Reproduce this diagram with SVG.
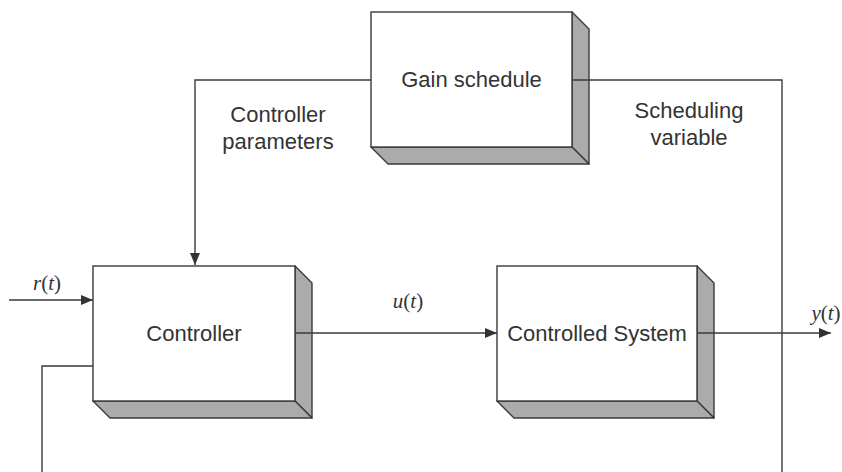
<svg xmlns="http://www.w3.org/2000/svg" width="842" height="472" viewBox="0 0 842 472">
<defs>
<style>
.front{fill:#ffffff;stroke:#3a3a3a;stroke-width:1.4}
.shade{fill:#ababab;stroke:#3a3a3a;stroke-width:1.4;stroke-linejoin:round}
.lbl{font-family:"Liberation Sans",Arial,sans-serif;font-size:22px;fill:#333;text-anchor:middle}
.sig{font-family:"Liberation Serif","Times New Roman",serif;font-size:21px;fill:#333;text-anchor:middle}
.it{font-style:italic}
.wire{fill:none;stroke:#3a3a3a;stroke-width:1.4}
</style>
<marker id="arr" markerWidth="12" markerHeight="10" refX="12" refY="5" orient="auto" markerUnits="userSpaceOnUse">
<path d="M0,0 L12,5 L0,10 Z" fill="#333"/>
</marker>
</defs>
<rect width="842" height="472" fill="#ffffff"/>

<g id="gain-schedule">
<polygon class="shade" points="572,12 589,29 589,164 572,147"/>
<polygon class="shade" points="371,147 572,147 589,164 388,164"/>
<rect class="front" x="371" y="12" width="201" height="135"/>
<text class="lbl" x="471.5" y="87">Gain schedule</text>
</g>

<g id="controller">
<polygon class="shade" points="295,266 312,283 312,418 295,401"/>
<polygon class="shade" points="93,401 295,401 312,418 110,418"/>
<rect class="front" x="93" y="266" width="202" height="135"/>
<text class="lbl" x="194" y="341">Controller</text>
</g>

<g id="controlled-system">
<polygon class="shade" points="697,266 714,283 714,418 697,401"/>
<polygon class="shade" points="497,401 697,401 714,418 514,418"/>
<rect class="front" x="497" y="266" width="200" height="135"/>
<text class="lbl" x="597" y="341">Controlled System</text>
</g>

<g id="connectors">
<path class="wire" d="M371,80 H195 V265" marker-end="url(#arr)"/>
<path class="wire" d="M572,80 H782 V472"/>
<path class="wire" d="M9,300 H93" marker-end="url(#arr)"/>
<path class="wire" d="M295,333 H497" marker-end="url(#arr)"/>
<path class="wire" d="M697,333 H831" marker-end="url(#arr)"/>
<path class="wire" d="M93,366 H42 V472"/>
</g>

<g id="labels">
<text class="lbl" x="278" y="122">Controller</text>
<text class="lbl" x="278" y="149">parameters</text>
<text class="lbl" x="689" y="118">Scheduling</text>
<text class="lbl" x="689" y="145">variable</text>
<text class="sig" x="47" y="290"><tspan class="it">r</tspan>(<tspan class="it">t</tspan>)</text>
<text class="sig" x="408" y="308"><tspan class="it">u</tspan>(<tspan class="it">t</tspan>)</text>
<text class="sig" x="826" y="320"><tspan class="it">y</tspan>(<tspan class="it">t</tspan>)</text>
</g>
</svg>
